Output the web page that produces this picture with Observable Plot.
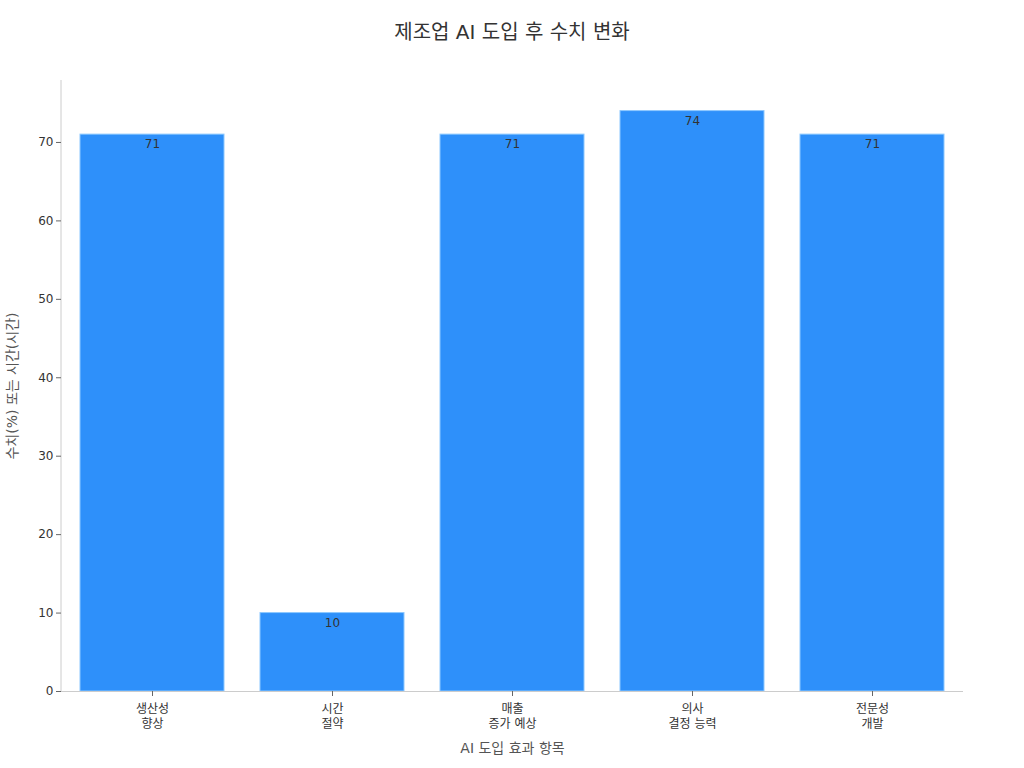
<!DOCTYPE html>
<html><head><meta charset="utf-8">
<script src="https://cdn.jsdelivr.net/npm/d3@7"></script>
<script src="https://cdn.jsdelivr.net/npm/@observablehq/plot@0.6"></script>
<style>
body{margin:0;background:#fff;font-family:"DejaVu Sans","Noto Sans CJK KR",sans-serif;}
#title{height:60px;line-height:65px;text-align:center;font-size:20px;color:#333;}
</style></head>
<body>
<div id="title">제조업 AI 도입 후 수치 변화</div>
<div id="chart"></div>
<script>
const categories = ["생산성\n향상", "시간\n절약", "매출\n증가 예상", "의사\n결정 능력", "전문성\n개발"];
const values = [71, 10, 71, 74, 71];
const yTicks = [0, 10, 20, 30, 40, 50, 60, 70];
const data = categories.map((c, i) => ({category: c, value: values[i]}));
function leftSpine(index, scales, values, dims) {
  const l = document.createElementNS("http://www.w3.org/2000/svg", "line");
  l.setAttribute("x1", dims.marginLeft); l.setAttribute("x2", dims.marginLeft);
  l.setAttribute("y1", dims.marginTop); l.setAttribute("y2", dims.height - dims.marginBottom);
  l.setAttribute("stroke", "#ccc");
  return l;
}
const chart = Plot.plot({
  width: 1024, height: 708,
  marginLeft: 61, marginRight: 61, marginTop: 20, marginBottom: 77,
  style: {fontFamily: '"DejaVu Sans","Noto Sans CJK KR",sans-serif', fontSize: "12px", color: "#333"},
  x: {domain: categories, paddingInner: 0.2, paddingOuter: 0.1, label: null},
  y: {domain: [0, 77.9], label: null},
  marks: [
    Plot.barY(data, {x: "category", y: "value", fill: "#2E90FA", stroke: "#8CC8FF", strokeWidth: 1}),
    Plot.text(data, {x: "category", y: "value", text: d => String(d.value), dy: 10, fill: "#333", fontSize: 12}),
    leftSpine,
    Plot.ruleY([0], {stroke: "#ccc"}),
    Plot.axisY({ticks: yTicks, tickSize: 5, tickPadding: 3, stroke: "#666", fill: "#333", fontSize: 12, label: null}),
    Plot.axisX({tickSize: 5, tickPadding: 5, stroke: "#666", fill: "#333", fontSize: 12, label: null, lineHeight: 1.3}),
    Plot.text(["AI 도입 효과 항목"], {frameAnchor: "bottom", dy: 61, fill: "#555", fontSize: 14}),
    Plot.text(["수치(%) 또는 시간(시간)"], {frameAnchor: "left", textAnchor: "middle", dx: -49, rotate: -90, fill: "#555", fontSize: 14})
  ]
});
document.getElementById("chart").appendChild(chart);
</script>
</body></html>
